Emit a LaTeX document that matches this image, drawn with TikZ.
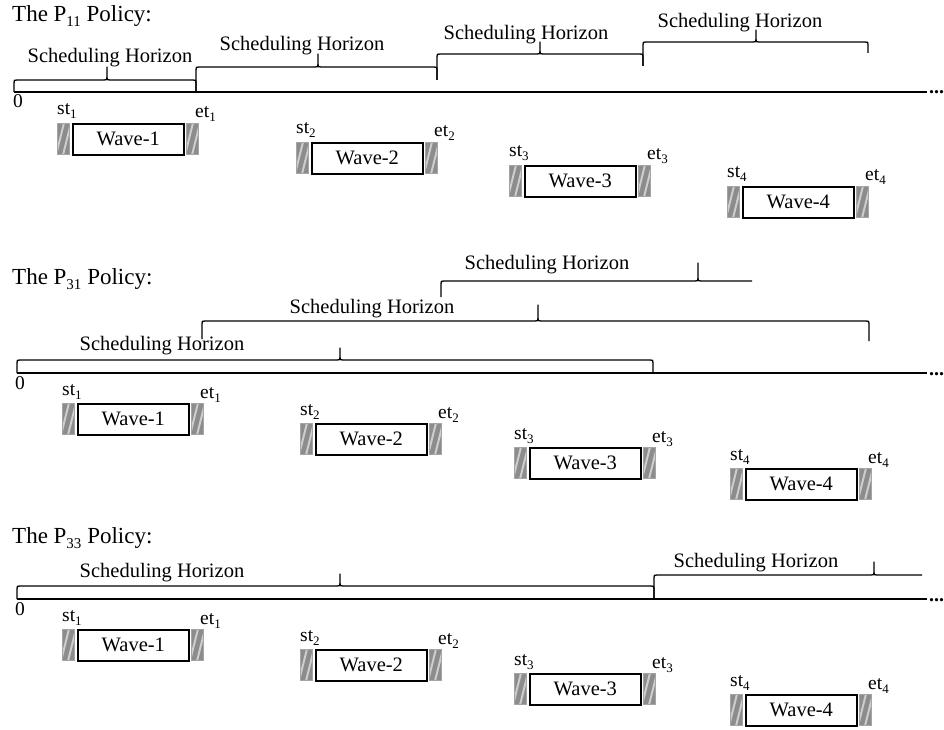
\documentclass[tikz,border=0pt]{standalone}
\usepackage{fontspec}
\setmainfont{Liberation Serif}
\definecolor{hfill}{RGB}{140,140,140}
\definecolor{hborder}{RGB}{165,165,165}
\definecolor{hstripe}{RGB}{205,205,205}
\newcommand\psub[1]{\raisebox{-5pt}{\fontsize{15}{15}\selectfont #1}}
\newcommand\tsub[1]{\raisebox{-4pt}{\fontsize{13}{13}\selectfont #1}}
\tikzset{
  tl/.style={line width=2pt},
  brc/.style={line width=1.3pt, line join=round},
  wavebox/.style={draw, line width=1.6pt, minimum width=111pt, minimum height=31pt, inner sep=0pt, font=\fontsize{20.5}{24}\selectfont},
  hatchbox/.style={draw=hborder, fill=hfill, line width=1.2pt, minimum width=12pt, minimum height=31pt, inner sep=0pt,
    path picture={\foreach \k in {-9,-2,5,12} \draw[hstripe, line width=2pt] ([xshift=\k pt, yshift=-2pt]path picture bounding box.south west) -- ++(9pt,36pt);}},
  bt/.style={font=\fontsize{20.5}{24}\selectfont, inner sep=0pt, anchor=base},
  ttl/.style={font=\fontsize{23}{27}\selectfont, inner sep=0pt, anchor=base west},
  lbl/.style={font=\fontsize{19.5}{23}\selectfont, inner sep=0pt, anchor=base west},
  dts/.style={font=\fontsize{20}{24}\selectfont\bfseries, inner sep=0pt, anchor=base west},
}
% x1, x2, y, yL, yR, xm, ytip
\newcommand\hbrace[7]{%
  \draw[brc] (#1,#4) -- (#1,{#3+3}) .. controls (#1,#3) .. ({#1+3},#3) -- ({#6-3},#3)
    .. controls (#6,#3) .. (#6,{#3-3}) -- (#6,#7) -- (#6,{#3-3})
    .. controls (#6,#3) .. ({#6+3},#3) -- ({#2-3},#3) .. controls (#2,#3) .. (#2,{#3+3}) -- (#2,#5);}
% x1, x2, y, yL, xm, ytip
\newcommand\hbraceopen[6]{%
  \draw[brc] (#1,#4) -- (#1,{#3+3}) .. controls (#1,#3) .. ({#1+3},#3) -- ({#5-3},#3)
    .. controls (#5,#3) .. (#5,{#3-3}) -- (#5,#6) -- (#5,{#3-3})
    .. controls (#5,#3) .. ({#5+3},#3) -- (#2,#3);}
% name, x, y, number
\newcommand\wave[4]{%
  \node[hatchbox, anchor=north west] (#1L) at (#2,#3) {};
  \node[wavebox, anchor=north west] (#1) at ({#2+15},#3) {Wave-#4};
  \node[hatchbox, anchor=north west] (#1R) at ({#2+129},#3) {};
  \node[lbl] (#1s) at (#2,{#3-8}) {st\tsub{#4}};
  \node[lbl] (#1e) at ({#2+138},{#3-5}) {et\tsub{#4}};}
\begin{document}
\begin{tikzpicture}[x=1pt,y=-1pt]
\useasboundingbox (0,0) rectangle (944,730);

% ---------- Panel 1: P11 ----------
\node[ttl] (t1) at (12,22) {The P\psub{11} Policy:};
\coordinate (p1a) at (14,92); \coordinate (p1b) at (927,92);
\draw[tl] (p1a) -- (p1b);
\node[dts] (p1d) at (929,94) {...};
\node[lbl] (p1z) at (13,108) {0};
\hbrace{14}{196}{80}{92}{92}{107}{67}
\node[bt] (p1h1) at (110,63) {Scheduling Horizon};
\hbrace{196}{437}{67}{91}{80}{318}{54}
\node[bt] (p1h2) at (302,51) {Scheduling Horizon};
\hbrace{437}{643}{54}{80}{66}{540}{42}
\node[bt] (p1h3) at (526,40) {Scheduling Horizon};
\hbrace{643}{868}{42}{66}{53}{756}{30}
\node[bt] (p1h4) at (740,28) {Scheduling Horizon};
\wave{p1w1}{57}{123}{1}
\wave{p1w2}{296}{142}{2}
\wave{p1w3}{509}{165}{3}
\wave{p1w4}{727}{186}{4}

% ---------- Panel 2: P31 ----------
\node[ttl] (t2) at (12,284) {The P\psub{31} Policy:};
\coordinate (p2a) at (17,373); \coordinate (p2b) at (927,373);
\draw[tl] (p2a) -- (p2b);
\node[dts] (p2d) at (929,375) {...};
\node[lbl] (p2z) at (15,389) {0};
\hbrace{17}{653}{360}{373}{373}{340}{348}
\node[bt] (p2h1) at (162,350) {Scheduling Horizon};
\hbrace{202}{869}{321}{339}{341}{538}{305}
\node[bt] (p2h2) at (372,313) {Scheduling Horizon};
\hbraceopen{441}{752}{281}{297}{698}{263}
\node[bt] (p2h3) at (547,269) {Scheduling Horizon};
\wave{p2w1}{62}{403}{1}
\wave{p2w2}{300}{423}{2}
\wave{p2w3}{514}{447}{3}
\wave{p2w4}{730}{468}{4}

% ---------- Panel 3: P33 ----------
\node[ttl] (t3) at (12,543) {The P\psub{33} Policy:};
\coordinate (p3a) at (17,599); \coordinate (p3b) at (927,599);
\draw[tl] (p3a) -- (p3b);
\node[dts] (p3d) at (929,601) {...};
\node[lbl] (p3z) at (15,615) {0};
\hbrace{17}{654}{586}{599}{599}{340}{574}
\node[bt] (p3h1) at (162,577) {Scheduling Horizon};
\hbraceopen{654}{922}{575}{599}{874}{562}
\node[bt] (p3h2) at (756,567) {Scheduling Horizon};
\wave{p3w1}{62}{629}{1}
\wave{p3w2}{300}{649}{2}
\wave{p3w3}{514}{673}{3}
\wave{p3w4}{730}{694}{4}
\end{tikzpicture}
\end{document}
